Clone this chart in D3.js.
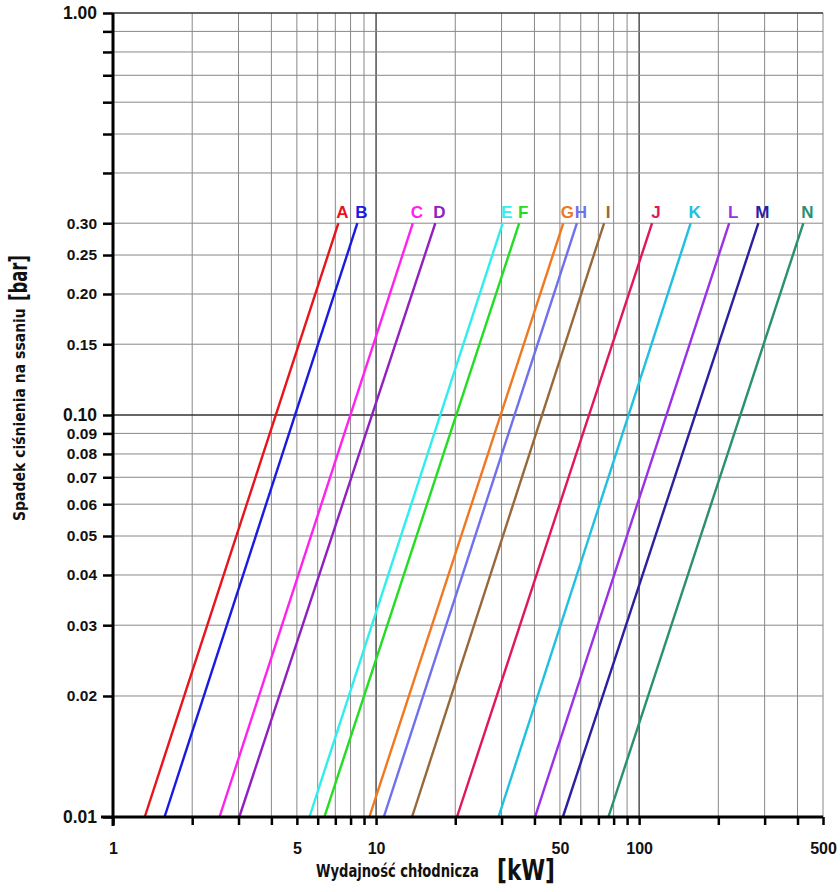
<!DOCTYPE html>
<html>
<head>
<meta charset="utf-8">
<title>Spadek ciśnienia na ssaniu</title>
<script src="https://d3js.org/d3.v7.min.js"></script>
<style>
	body { margin: 0; background: #fff; }
	.tick text { font-family: "Liberation Sans", Arial, sans-serif; font-weight: bold; fill: #111; }
	.axisTitle { font-family: "DejaVu Sans Condensed", "DejaVu Sans", sans-serif; font-stretch: condensed; font-weight: bold; fill: #111; }
</style>
</head>
<body>
<script>
// chart size
var width = 840;
var height = 892;

// line names, capacity [kW] at 0.01 bar and at 0.30 bar
var names = ["A","B","C","D","E","F","G","H","I","J","K","L","M","N"];
var kwLow = [1.32, 1.57, 2.54, 3.02, 5.58, 6.36, 9.43, 10.7, 13.7, 20.3, 29.2, 40.2, 51.3, 76.4];
var kwHigh = [7.19, 8.49, 13.8, 16.8, 30.3, 35.0, 51.5, 58.0, 73.6, 112, 157, 220, 284, 421];
var colors = ["#e8141c","#1a1ae0","#ff22ee","#9020c0","#30eeee","#22dd22","#f07820","#7070ee","#98683a","#e0185a","#20c0e0","#9a30e8","#2a20a0","#2a9070"];
var pLow = 0.01, pHigh = 0.30;

// axis ticks
var xTicks = [1,2,3,4,5,6,7,8,9,10,20,30,40,50,60,70,80,90,100,200,300,400,500];
var xLabels = [1,5,10,50,100,500];
var yTicks = [0.01,0.02,0.03,0.04,0.05,0.06,0.07,0.08,0.09,0.1,0.15,0.2,0.25,0.3,0.4,0.5,0.6,0.7,0.8,0.9,1];
var yLabels = [0.01,0.02,0.03,0.04,0.05,0.06,0.07,0.08,0.09,0.1,0.15,0.2,0.25,0.3,1];

var x = d3.scaleLog().domain([1,500]).range([113,823]);
var y = d3.scaleLog().domain([0.01,1]).range([817,13]);

var svg = d3.select("body").append("svg")
	.attr("width", width)
	.attr("height", height);

// grid
var grid = svg.append("g");
grid.selectAll(".vg").data(xTicks).enter().append("line")
	.attr("x1", d => x(d)).attr("x2", d => x(d))
	.attr("y1", y(1)).attr("y2", y(0.01))
	.attr("stroke", d => (d == 10 || d == 100) ? "#333" : "#888")
	.attr("stroke-width", d => (d == 10 || d == 100) ? 1.3 : 1);
grid.selectAll(".hg").data(yTicks).enter().append("line")
	.attr("y1", d => y(d)).attr("y2", d => y(d))
	.attr("x1", x(1)).attr("x2", x(500))
	.attr("stroke", d => (d == 0.1 || d == 1) ? "#333" : "#888")
	.attr("stroke-width", d => (d == 0.1 || d == 1) ? 1.3 : 1);

// lines
var line = d3.line().x(d => x(d[0])).y(d => y(d[1]));
var series = names.map((n, i) => ({name: n, color: colors[i], pts: [[kwLow[i], pLow], [kwHigh[i], pHigh]]}));

svg.append("g").selectAll("path").data(series).enter().append("path")
	.attr("d", d => line(d.pts))
	.attr("fill", "none")
	.attr("stroke", d => d.color)
	.attr("stroke-width", 2.4);

// labels above each line, continued along the line
svg.append("g").selectAll("text").data(series).enter().append("text")
	.attr("x", d => x(d.pts[1][0]) + 4)
	.attr("y", y(pHigh) - 5)
	.attr("text-anchor", "middle")
	.attr("fill", d => d.color)
	.style("font-family", "'Liberation Sans', Arial, sans-serif")
	.style("font-weight", "bold")
	.style("font-size", "17px")
	.text(d => d.name);

// axes
var yAxis = d3.axisLeft(y)
	.tickValues(yTicks)
	.tickSize(10).tickSizeOuter(0)
	.tickFormat(d => yLabels.indexOf(d) >= 0 ? d.toFixed(2) : "");
var gy = svg.append("g").attr("transform", "translate(" + x(1) + ",0)").call(yAxis);

var xAxis = d3.axisBottom(x)
	.tickValues(xTicks)
	.tickSize(8).tickSizeOuter(0)
	.tickFormat(d => xLabels.indexOf(d) >= 0 ? d : "");
var gx = svg.append("g").attr("transform", "translate(0," + y(0.01) + ")").call(xAxis);

[gx, gy].forEach(function(g) {
	g.select(".domain").attr("stroke", "#000").attr("stroke-width", 3);
	g.selectAll(".tick line").attr("stroke", "#000").attr("stroke-width", 2.5);
});
gx.selectAll(".tick text").style("font-size", "16px");
// decade labels on the y axis are a bit larger
gy.selectAll(".tick text").style("font-size", d => (d == 1 || d == 0.1 || d == 0.01) ? "17.5px" : "15.5px");
gy.select(".domain").attr("d", "M0," + (y(1)) + "V" + (y(0.01) + 9));
gx.select(".domain").attr("d", "M" + (x(1) - 12) + ",0H" + x(500));
gx.selectAll(".tick text").attr("dy", "1.6em");
gy.selectAll(".tick text").attr("x", -16);

// axis titles: condensed text squeezed to the reference width
function title(px, py, rot, size, w, str) {
	var t = svg.append("text").attr("class", "axisTitle")
		.style("font-size", size + "px")
		.text(str);
	var k = w / t.node().getComputedTextLength();
	t.attr("transform", "translate(" + px + "," + py + ") rotate(" + rot + ") scale(" + k + ",1)");
	return t;
}
title(316, 877, 0, 17, 163, "Wydajność chłodnicza");
title(497, 880, 0, 28, 58, "[kW]");
title(25, 521, -90, 15, 213, "Spadek ciśnienia na ssaniu");
title(27, 301, -90, 25, 46, "[bar]");
</script>
</body>
</html>
